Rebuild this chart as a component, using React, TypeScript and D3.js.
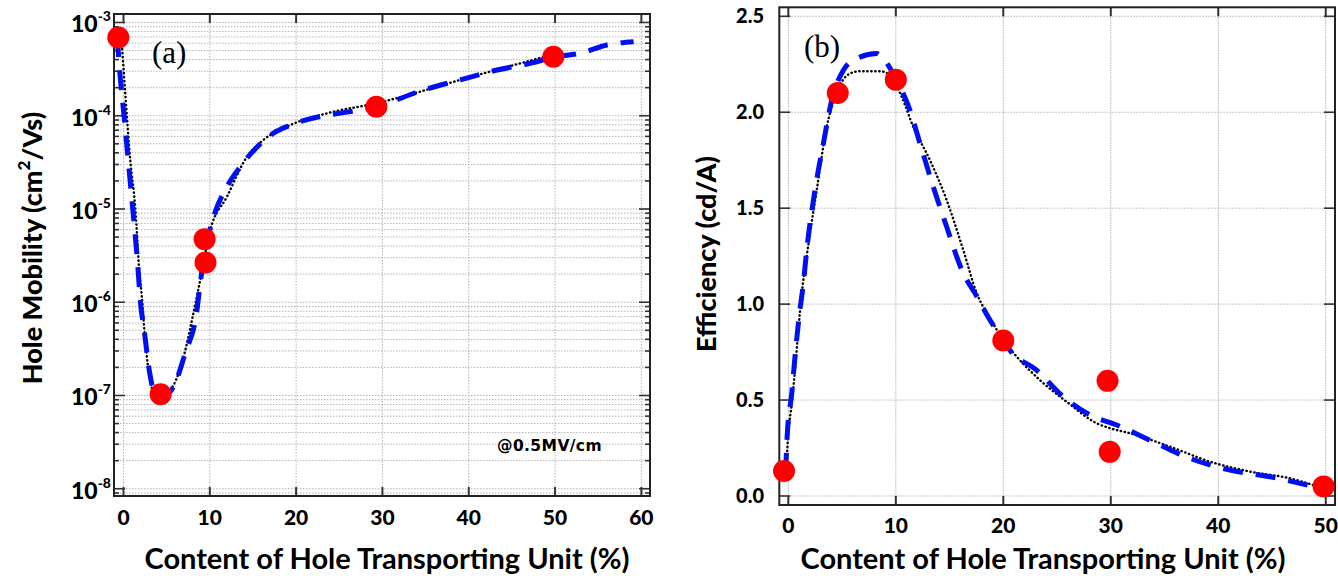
import * as d3 from "d3";

// (a) hole mobility vs content (measured points)
const mobContent = [-0.6, 4.3, 9.4, 9.5, 29.3, 49.8];
const mobValue = [6.9e-4, 1.03e-7, 4.75e-6, 2.67e-6, 1.25e-4, 4.3e-4];

// (a) blue dashed fit
const mobFitX = [-0.73, -0.38, 0.08, 0.51, 1.16, 1.67, 1.94, 2.4, 2.98, 3.87, 4.8, 5.79, 7.15, 8.51, 8.89, 9.47, 10.43, 11.98, 13.53, 15.46, 17.38, 19.32, 23.75, 25.49, 29.28, 34.76, 39.0, 43.27, 47.12, 50.02, 52.91, 56.01, 59.1];
const mobFitY = [6.98e-4, 2.6e-4, 9.7e-5, 3.6e-5, 8.2e-6, 2.38e-6, 1.05e-6, 5.0e-7, 1.87e-7, 9.7e-8, 1.0e-7, 1.24e-7, 2.84e-7, 8.2e-7, 1.6e-6, 3.6e-6, 8.2e-6, 1.73e-5, 2.84e-5, 4.6e-5, 6.5e-5, 7.9e-5, 1.02e-4, 1.08e-4, 1.25e-4, 1.89e-4, 2.42e-4, 3.09e-4, 3.65e-4, 4.27e-4, 4.68e-4, 5.74e-4, 6.22e-4];

// (a) black dotted guide
const mobDotX = [-0.27, -0.15, 0.2, 0.78, 1.36, 1.85, 2.13, 2.51, 3.09, 3.87, 5.41, 6.77, 7.93, 8.89, 10.05, 11.98, 14.3, 16.19, 19.32, 23.72, 29.28, 40.17, 48.67];
const mobDotY = [6.98e-4, 5.07e-4, 1.75e-4, 3.35e-5, 1.05e-5, 2.05e-6, 1.14e-6, 3.93e-7, 1.46e-7, 9.4e-8, 1.14e-7, 2.22e-7, 6.43e-7, 1.73e-6, 5.94e-6, 1.35e-5, 3.63e-5, 5.48e-5, 7.94e-5, 1.07e-4, 1.36e-4, 2.6e-4, 4.27e-4];

// (b) efficiency vs content (measured points)
const effContent = [-0.4, 4.6, 10, 20, 29.7, 29.9, 49.8];
const effValue = [0.13, 2.1, 2.17, 0.81, 0.6, 0.23, 0.05];

// (b) blue dashed fit
const effFitX = [-0.25, -0.12, 0.32, 0.62, 1.0, 1.4, 1.71, 2.48, 3.26, 4.04, 5.12, 6.36, 8.22, 8.69, 10.08, 11.32, 12.25, 13.49, 14.73, 16.28, 17.37, 18.76, 20.0, 20.62, 23.1, 25.58, 28.07, 30.55, 34.27, 37.37, 41.09, 44.81, 47.6, 49.77];
const effFitY = [0.12, 0.3, 0.535, 0.726, 0.934, 1.108, 1.281, 1.594, 1.837, 2.063, 2.219, 2.28, 2.306, 2.288, 2.167, 2.01, 1.837, 1.611, 1.403, 1.16, 1.056, 0.917, 0.8125, 0.76, 0.656, 0.517, 0.422, 0.37, 0.274, 0.196, 0.135, 0.1, 0.066, 0.035];

// (b) black dotted guide
const effDotX = [-0.2, 0, 0.32, 0.62, 0.93, 1.25, 1.71, 2.64, 3.57, 4.34, 5.74, 6.67, 8.53, 9.46, 10.55, 11.63, 13.18, 14.73, 16.28, 17.53, 18.76, 20.0, 21.25, 23.41, 25.9, 28.69, 29.93, 31.79, 35.51, 39.23, 42.95, 46.67, 49.77];
const effDotY = [0.15, 0.327, 0.483, 0.656, 0.865, 1.056, 1.25, 1.594, 1.923, 2.08, 2.202, 2.214, 2.214, 2.193, 2.08, 1.923, 1.75, 1.542, 1.281, 1.056, 0.927, 0.8125, 0.726, 0.604, 0.491, 0.379, 0.353, 0.327, 0.257, 0.179, 0.127, 0.092, 0.04];

const mobXTicks = [0, 10, 20, 30, 40, 50, 60];
const mobExponents = [-3, -4, -5, -6, -7, -8];
const effXTicks = [0, 10, 20, 30, 40, 50];
const effYTicks = [0, 0.5, 1.0, 1.5, 2.0, 2.5];

const xTitle = "Content of Hole Transporting Unit (%)";

const GRID = "#b4b4b4";
const AXIS = "#333";
const tickFont = "Lato, 'DejaVu Sans', sans-serif";

function PanelA() {
  const L = 114, R = 650, T = 14, B = 496;
  const x = d3.scaleLinear().domain([-1.1, 61]).range([L, R]);
  const y = d3.scaleLog().domain([10 ** -8.078, 10 ** -2.909]).range([B, T]);

  const minor: number[] = [];
  for (let k = -9; k <= -3; k++) {
    for (let m = 1; m <= 9; m++) {
      const v = m * 10 ** k;
      if (v >= y.domain()[0] && v <= y.domain()[1]) minor.push(v);
    }
  }
  const line = d3
    .line<[number, number]>()
    .x((d) => x(d[0]))
    .y((d) => y(d[1]))
    .curve(d3.curveMonotoneX);
  const fit = line(d3.zip(mobFitX, mobFitY) as [number, number][]) || "";
  const dot = line(d3.zip(mobDotX, mobDotY) as [number, number][]) || "";

  return (
    <g>
      {minor.map((v, i) => (
        <line key={"hg" + i} x1={L} x2={R} y1={y(v)} y2={y(v)} stroke={GRID} strokeDasharray="1.5 1.5" />
      ))}
      {mobXTicks.map((t) => (
        <line key={"vg" + t} x1={x(t)} x2={x(t)} y1={T} y2={B} stroke={GRID} strokeDasharray="1.5 1.5" />
      ))}
      {minor.map((v, i) => {
        const major = Math.abs(Math.log10(v) - Math.round(Math.log10(v))) < 1e-6;
        const len = major ? 11 : 5;
        return (
          <g key={"yt" + i} stroke={AXIS} strokeWidth={1.6}>
            <line x1={L} x2={L + len} y1={y(v)} y2={y(v)} />
            <line x1={R} x2={R - len} y1={y(v)} y2={y(v)} />
          </g>
        );
      })}
      {mobXTicks.map((t) => (
        <g key={"xt" + t} stroke={AXIS} strokeWidth={2}>
          <line x1={x(t)} x2={x(t)} y1={B} y2={B - 9} />
          <line x1={x(t)} x2={x(t)} y1={T} y2={T + 9} />
        </g>
      ))}
      <rect x={L} y={T} width={R - L} height={B - T} fill="none" stroke="#222" strokeWidth={2} />

      <path d={dot} fill="none" stroke="#000" strokeWidth={2.4} strokeLinecap="round" strokeDasharray="0.4 3.6" />
      <path d={fit} fill="none" stroke="#0010f0" strokeWidth={5} strokeDasharray="20 13" />
      {mobContent.map((c, i) => (
        <circle key={"p" + i} cx={x(c)} cy={y(mobValue[i])} r={11} fill="#ff0000" />
      ))}

      {mobXTicks.map((t) => (
        <text key={"xl" + t} x={x(t)} y={525} textAnchor="middle" fontFamily={tickFont} fontWeight={900} fontSize={21}>
          {t}
        </text>
      ))}
      {mobExponents.map((e) => (
        <text key={"yl" + e} x={111} y={y(10 ** e) + 10} textAnchor="end" fontFamily={tickFont} fontWeight={900} fontSize={23}>
          10
          <tspan dy={-11} fontSize={14}>
            {e}
          </tspan>
        </text>
      ))}
      <text x={L + 38} y={63} fontFamily="'Liberation Serif', serif" fontSize={31}>
        (a)
      </text>
      <text x={497} y={451} fontFamily="'DejaVu Sans', sans-serif" fontWeight={700} fontSize={15.5} letterSpacing={0.4}>
        @0.5MV/cm
      </text>
      <text x={387} y={569} textAnchor="middle" fontFamily={tickFont} fontWeight={700} fontSize={29}>
        {xTitle}
      </text>
      <text transform="translate(42,248) rotate(-90)" textAnchor="middle" fontFamily={tickFont} fontWeight={900} fontSize={27}>
        Hole Mobility (cm
        <tspan dy={-12} fontSize={17}>2</tspan>
        <tspan dy={12}>/Vs)</tspan>
      </text>
    </g>
  );
}

function PanelB() {
  const L = 779.3, R = 1335, T = 7.3, B = 505;
  const x = d3.scaleLinear().domain([-0.84, 50.86]).range([L, R]);
  const y = d3.scaleLinear().domain([-0.047, 2.547]).range([B, T]);
  const line = d3
    .line<[number, number]>()
    .x((d) => x(d[0]))
    .y((d) => y(d[1]))
    .curve(d3.curveMonotoneX);
  const fit = line(d3.zip(effFitX, effFitY) as [number, number][]) || "";
  const dot = line(d3.zip(effDotX, effDotY) as [number, number][]) || "";

  return (
    <g>
      {effYTicks.map((t) => (
        <line key={"hg" + t} x1={L} x2={R} y1={y(t)} y2={y(t)} stroke={GRID} strokeDasharray="1.5 1.5" />
      ))}
      {effXTicks.map((t) => (
        <line key={"vg" + t} x1={x(t)} x2={x(t)} y1={T} y2={B} stroke={GRID} strokeDasharray="1.5 1" />
      ))}
      {effYTicks.map((t) => (
        <g key={"yt" + t} stroke={AXIS} strokeWidth={1.6}>
          <line x1={L} x2={L + 11} y1={y(t)} y2={y(t)} />
          <line x1={R} x2={R - 11} y1={y(t)} y2={y(t)} />
        </g>
      ))}
      {effXTicks.map((t) => (
        <g key={"xt" + t} stroke={AXIS} strokeWidth={2}>
          <line x1={x(t)} x2={x(t)} y1={B} y2={B - 9} />
          <line x1={x(t)} x2={x(t)} y1={T} y2={T + 9} />
        </g>
      ))}
      <rect x={L} y={T} width={R - L} height={B - T} fill="none" stroke="#222" strokeWidth={2} />

      <path d={dot} fill="none" stroke="#000" strokeWidth={2.4} strokeLinecap="round" strokeDasharray="0.4 3.6" />
      <path d={fit} fill="none" stroke="#0010f0" strokeWidth={5} strokeDasharray="20 13" />
      {effContent.map((c, i) => (
        <circle key={"p" + i} cx={x(c)} cy={y(effValue[i])} r={11} fill="#ff0000" />
      ))}

      {effXTicks.map((t) => (
        <text key={"xl" + t} x={x(t)} y={533} textAnchor="middle" fontFamily={tickFont} fontWeight={900} fontSize={21}>
          {t}
        </text>
      ))}
      {effYTicks.map((t) => (
        <text key={"yl" + t} x={764} y={y(t) + 7} textAnchor="end" fontFamily={tickFont} fontWeight={900} fontSize={20}>
          {t.toFixed(1)}
        </text>
      ))}
      <text x={804} y={57} fontFamily="'Liberation Serif', serif" fontSize={31}>
        (b)
      </text>
      <text x={1043} y={569} textAnchor="middle" fontFamily={tickFont} fontWeight={700} fontSize={29}>
        {xTitle}
      </text>
      <text transform="translate(716,254) rotate(-90)" textAnchor="middle" fontFamily={tickFont} fontWeight={900} fontSize={27}>
        Efficiency (cd/A)
      </text>
    </g>
  );
}

export default function App() {
  return (
    <svg
      width={1338}
      height={576}
      style={{ position: "absolute", left: 0, top: 0, display: "block", background: "#fff" }}
    >
      <PanelA />
      <PanelB />
    </svg>
  );
}
